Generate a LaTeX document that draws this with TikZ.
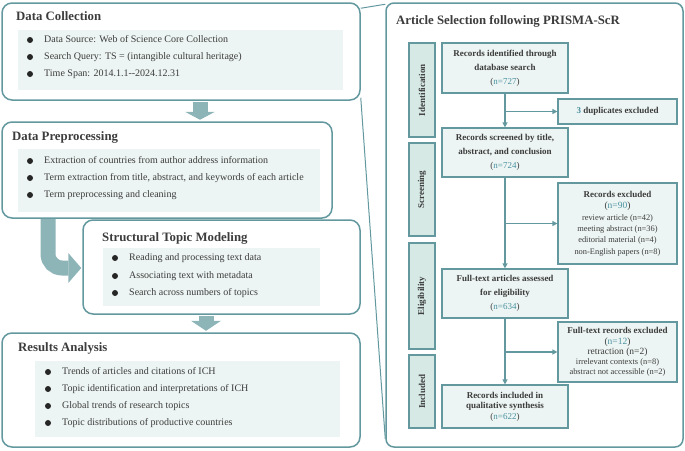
\documentclass[tikz,border=0pt]{standalone}
\usepackage{fontspec}
\setmainfont{Liberation Serif}
\usetikzlibrary{arrows.meta,calc,fit}

\begin{document}
\begin{tikzpicture}[x=1pt,y=-1pt,
    panel/.style={draw=frame, line width=1.5pt, rounded corners=10pt, inner sep=0pt},
    head/.style={anchor=base west, inner sep=0pt, text=ink, font=\fontsize{12.8}{15}\selectfont\bfseries},
    item/.style={anchor=west, inner sep=0pt, text=ink, text height=7pt, text depth=2pt, font=\fontsize{10}{12}\selectfont},
    stage/.style={draw=frame, fill=tint, line width=1.2pt, rotate=90, minimum height=26pt, inner sep=0pt, text=ink, font=\fontsize{9}{11}\selectfont\bfseries},
    rec/.style={draw=frame, fill=pale, line width=1.2pt, minimum width=126pt, align=center, inner sep=0pt, text=ink, font=\fontsize{9}{14}\selectfont\bfseries},
    side/.style={rec, minimum width=119pt, font=\fontsize{8.4}{11.4}\selectfont},
    flow/.style={draw=frame, line width=1.2pt, -{Triangle[length=5pt,width=5pt]}},
    link/.style={draw=frame, line width=1pt},
    bigarrow/.style={draw=shade, line width=15pt, -{Triangle[length=#1,width=30pt,line width=0pt]}},
    bigarrow/.default=9pt]

  % Color definitions
  \definecolor{frame}{RGB}{98,152,158}   % teal outline
  \definecolor{pale}{RGB}{236,245,243}   % light panel fill
  \definecolor{tint}{RGB}{214,233,229}   % stage bar fill
  \definecolor{shade}{RGB}{141,180,182}  % block arrows
  \definecolor{ink}{RGB}{60,60,60}       % text
  \definecolor{num}{RGB}{75,145,160}     % counts

  \useasboundingbox (0,0) rectangle (685,450);

  % Helper macros
  %   {name}{left}{top}{right}{bottom}
  \newcommand{\panel}[5]{%
    \node[panel, fit={(#2,#3) (#4,#5)}] (#1) {};}
  %   {name}{text x}{y}{text}
  \newcommand{\bul}[4]{%
    \fill[black!85] (#2-14,#3) circle (3pt);
    \node[item] (#1) at (#2,#3) {#4};}
  \newcommand{\ncount}[1]{{\mdseries(\textcolor{num}{n=#1})}}

  % Data Collection
  \panel{dc}{2}{3}{360}{100}
  \node[head] (dc-t) at (16,20.5) {Data Collection};
  \fill[pale] (18,30) rectangle (343,90);
  \bul{dc-1}{44}{40}{Data Source: Web of Science Core Collection}
  \bul{dc-2}{44}{57}{Search Query: TS = (intangible cultural heritage)}
  \bul{dc-3}{44}{74}{Time Span: 2014.1.1-{}-2024.12.31}

  % Data Preprocessing
  \panel{dp}{2}{122}{332}{218}
  \node[head] (dp-t) at (12,140) {Data Preprocessing};
  \fill[pale] (18,149) rectangle (320,212);
  \bul{dp-1}{44}{161}{Extraction of countries from author address information}
  \bul{dp-2}{44}{178}{Term extraction from title, abstract, and keywords of each article}
  \bul{dp-3}{44}{195}{Term preprocessing and cleaning}

  % Structural Topic Modeling
  \panel{stm}{83}{220}{360}{314}
  \node[head] (stm-t) at (102,241) {Structural Topic Modeling};
  \fill[pale] (103,248) rectangle (320,306);
  \bul{stm-1}{129}{258}{Reading and processing text data}
  \bul{stm-2}{129}{276}{Associating text with metadata}
  \bul{stm-3}{129}{293}{Search across numbers of topics}

  % Results Analysis
  \panel{ra}{2}{333}{360}{447}
  \node[head] (ra-t) at (18,351.7) {Results Analysis};
  \fill[pale] (35,361) rectangle (340,437);
  \bul{ra-1}{62}{372}{Trends of articles and citations of ICH}
  \bul{ra-2}{62}{389}{Topic identification and interpretations of ICH}
  \bul{ra-3}{62}{406}{Global trends of research topics}
  \bul{ra-4}{62}{423}{Topic distributions of productive countries}

  % Block arrows between stages
  \draw[bigarrow=8pt, shorten <=1.5pt, shorten >=1.5pt] (200,0 |- dc.south) -- (200,0 |- dp.north);
  \draw[bigarrow=13pt, rounded corners=14pt, shorten >=1pt] (48,0 |- dp.south) |- (stm.west |- 0,268);
  \draw[bigarrow=10pt, shorten <=1.5pt, shorten >=1.5pt] (206,0 |- stm.south) -- (206,0 |- ra.north);

  % PRISMA panel
  \node[panel, rounded corners=8pt, fit={(386,3) (683,447)}] (sel) {};
  \node[head] (sel-t) at (396,24.5) {Article Selection following PRISMA-ScR};

  % Zoom lines from Data Collection
  \draw[link] ($(dc.north east)+(0,6)$) -- ($(sel.north west)+(0,2)$);
  \draw[link] ($(dc.south east)+(0,-3)$) -- ($(sel.south west)+(0,-9)$);

  % Stage bars
  \node[stage, minimum width=94pt] (id) at (422,90) {Identification};
  \node[stage, minimum width=93pt] (sc) at (422,189.5) {Screening};
  \node[stage, minimum width=106pt] (el) at (422,296) {Eligibility};
  \node[stage, minimum width=73pt] (inc) at (422,391.5) {Included};

  % Main records
  \node[rec, minimum height=50pt] (b1) at (505,68) {Records identified through\\database search\\\ncount{727}};
  \node[rec, minimum height=49pt] (b2) at (505,152.5) {Records screened by title,\\abstract, and conclusion\\\ncount{724}};
  \node[rec, minimum height=49pt] (b3) at (505,293.5) {Full-text articles assessed\\for eligibility\\\ncount{634}};
  \node[rec, minimum height=43pt, font=\fontsize{9}{10.5}\selectfont\bfseries] (b4) at (505,406.5) {Records included in\\qualitative synthesis\\\ncount{622}};

  % Exclusions
  \node[side, minimum height=25pt, font=\fontsize{9}{11}\selectfont\bfseries] (x1) at (617.5,111.5) {\textcolor{num}{3} duplicates excluded};
  \node[side, minimum height=81pt] (x2) at (617.5,223.5) {{\fontsize{9}{11.4}\selectfont\bfseries Records excluded}\\
    {\fontsize{9.5}{11.4}\selectfont\ncount{90}}\\review article (n=42)\\meeting abstract (n=36)\\
    editorial material (n=4)\\non-English papers (n=8)};
  \node[side, minimum height=60pt, font=\fontsize{8.4}{10.2}\selectfont] (x3) at (617.5,352) {{\fontsize{9}{10.2}\selectfont\bfseries Full-text records excluded}\\
    {\fontsize{9.5}{10.2}\selectfont\ncount{12}}\\{\fontsize{9.5}{10.2}\selectfont retraction (n=2)}\\
    irrelevant contexts (n=8)\\abstract not accessible (n=2)};

  % Flow arrows
  \draw[flow] (b1.south) -- (b2.north);
  \draw[flow] (b2.south) -- (b3.north);
  \draw[flow] (b3.south) -- (b4.north);
  \draw[flow] (b1.south |- x1.west) -- (x1.west);
  \draw[flow] (b2.south |- x2.west) -- (x2.west);
  \draw[flow] (b3.south |- x3.west) -- (x3.west);
\end{tikzpicture}
\end{document}
